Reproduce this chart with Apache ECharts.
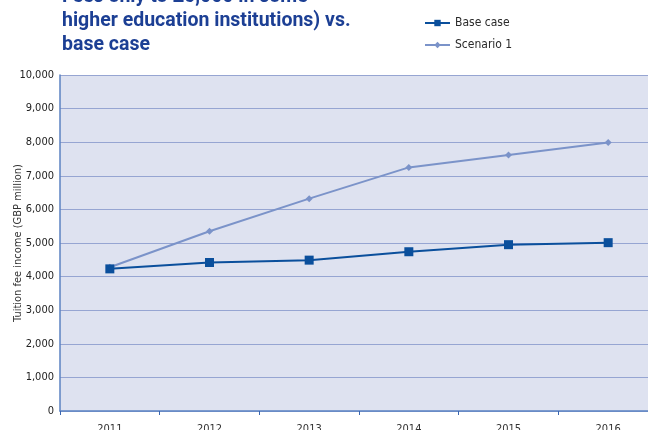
<!DOCTYPE html>
<html>
<head>
<meta charset="utf-8">
<script src="https://cdn.jsdelivr.net/npm/echarts@6/dist/echarts.min.js"></script>
<style>
  html, body { margin: 0; padding: 0; background: #ffffff; }
  #chart { width: 648px; height: 430px; }
</style>
</head>
<body>
<div id="chart"></div>
<script>
// Tuition fee income, GBP million
const years = ['2011', '2012', '2013', '2014', '2015', '2016'];
const baseCase = [4230, 4420, 4490, 4740, 4950, 5010];
const scenario1 = [4280, 5350, 6320, 7250, 7620, 7990];
const titleLines = ['Fees only to £6,000 in some', 'higher education institutions) vs.', 'base case'];

const chart = echarts.init(document.getElementById('chart'), null, { renderer: 'canvas' });

const labelFont = '"DejaVu Sans Condensed", "Roboto", sans-serif';

chart.setOption({
  animation: false,
  title: {
    text: titleLines.join('\n'),
    left: 57,
    top: -20,
    textStyle: {
      color: '#1c3f94',
      fontSize: 19.5,
      fontWeight: 'bold',
      fontFamily: 'Roboto, "Noto Sans", sans-serif',
      lineHeight: 24
    }
  },
  legend: {
    orient: 'vertical',
    left: 419,
    top: 12,
    itemWidth: 25,
    itemHeight: 8,
    itemGap: 10,
    textStyle: { color: '#2a2a2a', fontSize: 12, fontFamily: labelFont },
    data: ['Base case', 'Scenario 1']
  },
  grid: {
    left: 60,
    top: 75,
    width: 598,
    height: 336,
    containLabel: false,
    outerBoundsMode: 'none',
    show: true,
    backgroundColor: '#dee2f0',
    borderWidth: 0
  },
  xAxis: {
    type: 'category',
    data: years,
    boundaryGap: true,
    axisLine: { lineStyle: { color: '#5b82c2', width: 1.5 } },
    axisTick: { show: true, length: 4, lineStyle: { color: '#3a66b0' } },
    axisLabel: { color: '#333333', fontSize: 11, fontFamily: labelFont, margin: 13 },
    splitLine: { show: false }
  },
  yAxis: {
    type: 'value',
    min: 0,
    max: 10000,
    interval: 1000,
    name: 'Tuition fee income (GBP million)',
    nameLocation: 'middle',
    nameGap: 36,
    nameMoveOverlap: false,
    nameTextStyle: { color: '#333333', fontSize: 11, fontFamily: labelFont },
    axisLine: { show: true, lineStyle: { color: '#5b82c2', width: 1.5 } },
    axisTick: { show: false },
    axisLabel: {
      color: '#222222',
      fontSize: 11,
      fontFamily: labelFont,
      margin: 6,
      formatter: v => v.toLocaleString('en-US')
    },
    splitLine: { show: true, lineStyle: { color: '#96a5d2', width: 1.2 } }
  },
  series: [
    {
      name: 'Base case',
      type: 'line',
      data: baseCase,
      symbol: 'rect',
      symbolSize: 9,
      itemStyle: { color: '#0a4f9c' },
      lineStyle: { color: '#0a4f9c', width: 2 },
      z: 3
    },
    {
      name: 'Scenario 1',
      type: 'line',
      data: scenario1,
      symbol: 'diamond',
      symbolSize: 7,
      itemStyle: { color: '#7b93c9' },
      lineStyle: { color: '#7b93c9', width: 2 },
      z: 2
    }
  ]
});
</script>
</body>
</html>
